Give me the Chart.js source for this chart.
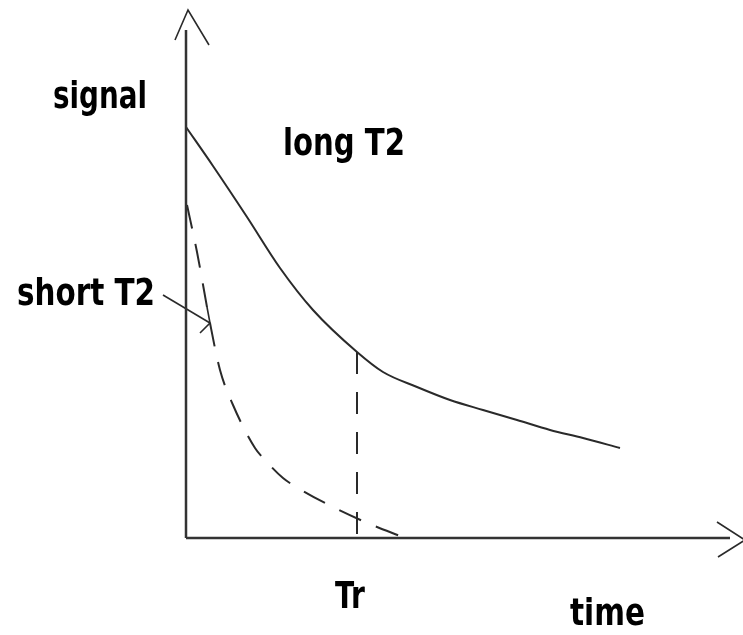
<!DOCTYPE html>
<html><head><meta charset="utf-8">
<script src="https://cdn.jsdelivr.net/npm/chart.js@4"></script>
<style>html,body{margin:0;padding:0;background:#fff;overflow:hidden}canvas{display:block}</style>
</head><body>
<canvas id="c" width="743" height="635"></canvas>
<script>
// Signal decay for a long and a short T2, arbitrary time / signal units
const longT2Time     = [0, 5.4, 12.2, 18.8, 25.4, 34.2, 39.4, 46.2, 52.8, 59.4, 66.2, 72.8, 79.4, 86.8];
const longT2Signal   = [82.2, 74.4, 64.2, 54.0, 45.6, 37.2, 33.2, 30.2, 27.6, 25.6, 23.6, 21.6, 20.0, 18.0];
const shortT2Time    = [0.2, 2.2, 4.8, 6.8, 9.4, 13.8, 15.8, 19.4, 22.4, 27.8, 35.8, 43.8];
const shortT2Signal  = [66.6, 57.2, 43.0, 33.6, 26.6, 18.0, 15.6, 12.0, 10.0, 7.0, 3.2, 0];
// Repetition time marker, dropped from the long-T2 curve
const trTime   = 34.2;
const trSignal = 37.2;

// Axes with hand-drawn arrowheads
const timeAxisEnd   = 108.8;
const signalAxisEnd = 101.6;
const timeArrowX    = [106.2, 111.8, 106.4];
const timeArrowY    = [3.2, -0.4, -3.8];
const signalArrowX  = [-2.2, 0.4, 4.6];
const signalArrowY  = [99.6, 105.6, 98.6];
// Pointer for the short-T2 label
const pointerX      = [-4.6, 4.8];
const pointerY      = [48.6, 43.0];
const pointerHeadX  = [4.2, 4.8, 2.8];
const pointerHeadY  = [46.2, 43.0, 41.0];

// Text labels
const labelTexts   = ['signal', 'long T2', 'short T2', 'Tr', 'time'];
const labelAnchors = [[-26.6, 86.0], [19.4, 76.6], [-33.8, 46.6], [29.8, -14.0], [76.8, -17.4]];
const labelWidths  = [94, 122, 138, 30, 75];

const zip = (xs, ys) => xs.map((x, i) => ({ x, y: ys[i] }));
const INK = '#2a2a2a';

const drawLabels = {
  id: 'drawLabels',
  beforeDraw(chart) {
    const c = chart.ctx;
    c.save();
    c.fillStyle = '#fff';
    c.fillRect(0, 0, chart.width, chart.height);
    c.restore();
  },
  afterDatasetsDraw(chart) {
    const c = chart.ctx, sx = chart.scales.x, sy = chart.scales.y;
    c.save();
    c.fillStyle = '#000';
    c.font = 'bold 38px "DejaVu Sans"';
    c.textBaseline = 'alphabetic';
    c.textAlign = 'left';
    labelTexts.forEach((t, i) => {
      const px = sx.getPixelForValue(labelAnchors[i][0]);
      const py = sy.getPixelForValue(labelAnchors[i][1]);
      const w = c.measureText(t).width;
      c.save();
      c.translate(px, py);
      c.scale(labelWidths[i] / w, 1);
      c.fillText(t, 0, 0);
      c.restore();
    });
    c.restore();
  }
};

const seg = (data, extra) => Object.assign({
  data, borderColor: INK, borderWidth: 2, pointRadius: 0, tension: 0, fill: false
}, extra || {});

new Chart(document.getElementById('c'), {
  type: 'line',
  data: {
    datasets: [
      seg([{ x: 0, y: 0 }, { x: timeAxisEnd, y: 0 }], { borderWidth: 2.5, borderColor: '#333' }),
      seg([{ x: 0, y: 0 }, { x: 0, y: signalAxisEnd }], { borderWidth: 2.5, borderColor: '#333' }),
      seg(zip(timeArrowX, timeArrowY), { borderWidth: 1.6 }),
      seg(zip(signalArrowX, signalArrowY), { borderWidth: 1.6 }),
      seg(zip(longT2Time, longT2Signal), { cubicInterpolationMode: 'monotone' }),
      seg(zip(shortT2Time, shortT2Signal), { cubicInterpolationMode: 'monotone', borderDash: [24, 16] }),
      seg([{ x: trTime, y: trSignal }, { x: trTime, y: 0 }], { borderDash: [22, 18] }),
      seg(zip(pointerX, pointerY), { borderWidth: 1.6 }),
      seg(zip(pointerHeadX, pointerHeadY), { borderWidth: 1.6 })
    ]
  },
  options: {
    responsive: false,
    animation: false,
    devicePixelRatio: 1,
    layout: { padding: 0 },
    scales: {
      x: { type: 'linear', min: -37.2, max: 111.4, display: false },
      y: { type: 'linear', min: -19.4, max: 107.6, display: false }
    },
    plugins: { legend: { display: false }, tooltip: { enabled: false } }
  },
  plugins: [drawLabels]
});
</script>
</body></html>
